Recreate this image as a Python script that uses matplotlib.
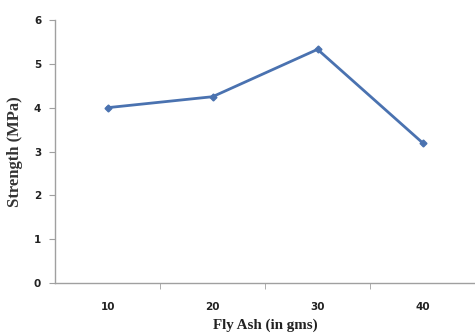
import matplotlib
matplotlib.use("Agg")
import matplotlib.pyplot as plt
import numpy as np

FLY_ASH  = ["10", "20", "30", "40"]
STRENGTH = [4.0, 4.25, 5.33, 3.2]

LINE_COLOR = "#4a72b0"
AXIS_COLOR = "#a0a0a0"

fig = plt.figure(figsize=(4.75, 3.33), dpi=100)
ax = fig.add_axes([0.116, 0.150, 0.884, 0.790])

x = np.arange(len(FLY_ASH))
ax.plot(x, STRENGTH, color=LINE_COLOR, linewidth=2.0, marker="D", markersize=3.5)

ax.set_xlim(-0.5, len(FLY_ASH) - 0.5)
ax.set_ylim(0, 6)
ax.set_xticks(x)
ax.set_xticklabels(FLY_ASH)
ax.set_xticks(np.arange(len(FLY_ASH)) + 0.5, minor=True)
ax.set_yticks(range(0, 7))

for side in ["top", "right"]:
    ax.spines[side].set_visible(False)
for side in ["left", "bottom"]:
    ax.spines[side].set_color(AXIS_COLOR)
    ax.spines[side].set_linewidth(1.0)

ax.tick_params(axis="x", which="major", length=0, pad=14)
ax.tick_params(axis="x", which="minor", length=4, color=AXIS_COLOR, direction="out")
ax.tick_params(axis="y", length=4, color=AXIS_COLOR, direction="out", pad=6)
for lbl in ax.get_xticklabels() + ax.get_yticklabels():
    lbl.set_fontweight("bold")
    lbl.set_fontsize(7.5)
    lbl.set_color("#222222")

ax.set_xlabel("Fly Ash (in gms)", fontsize=10.8, fontweight="bold",
              family="Liberation Serif", labelpad=4, color="#222222")
ax.set_ylabel("Strength (MPa)", fontsize=12, fontweight="bold",
              family="Liberation Serif", labelpad=8, color="#333333")

fig.savefig("out.png", dpi=100)
